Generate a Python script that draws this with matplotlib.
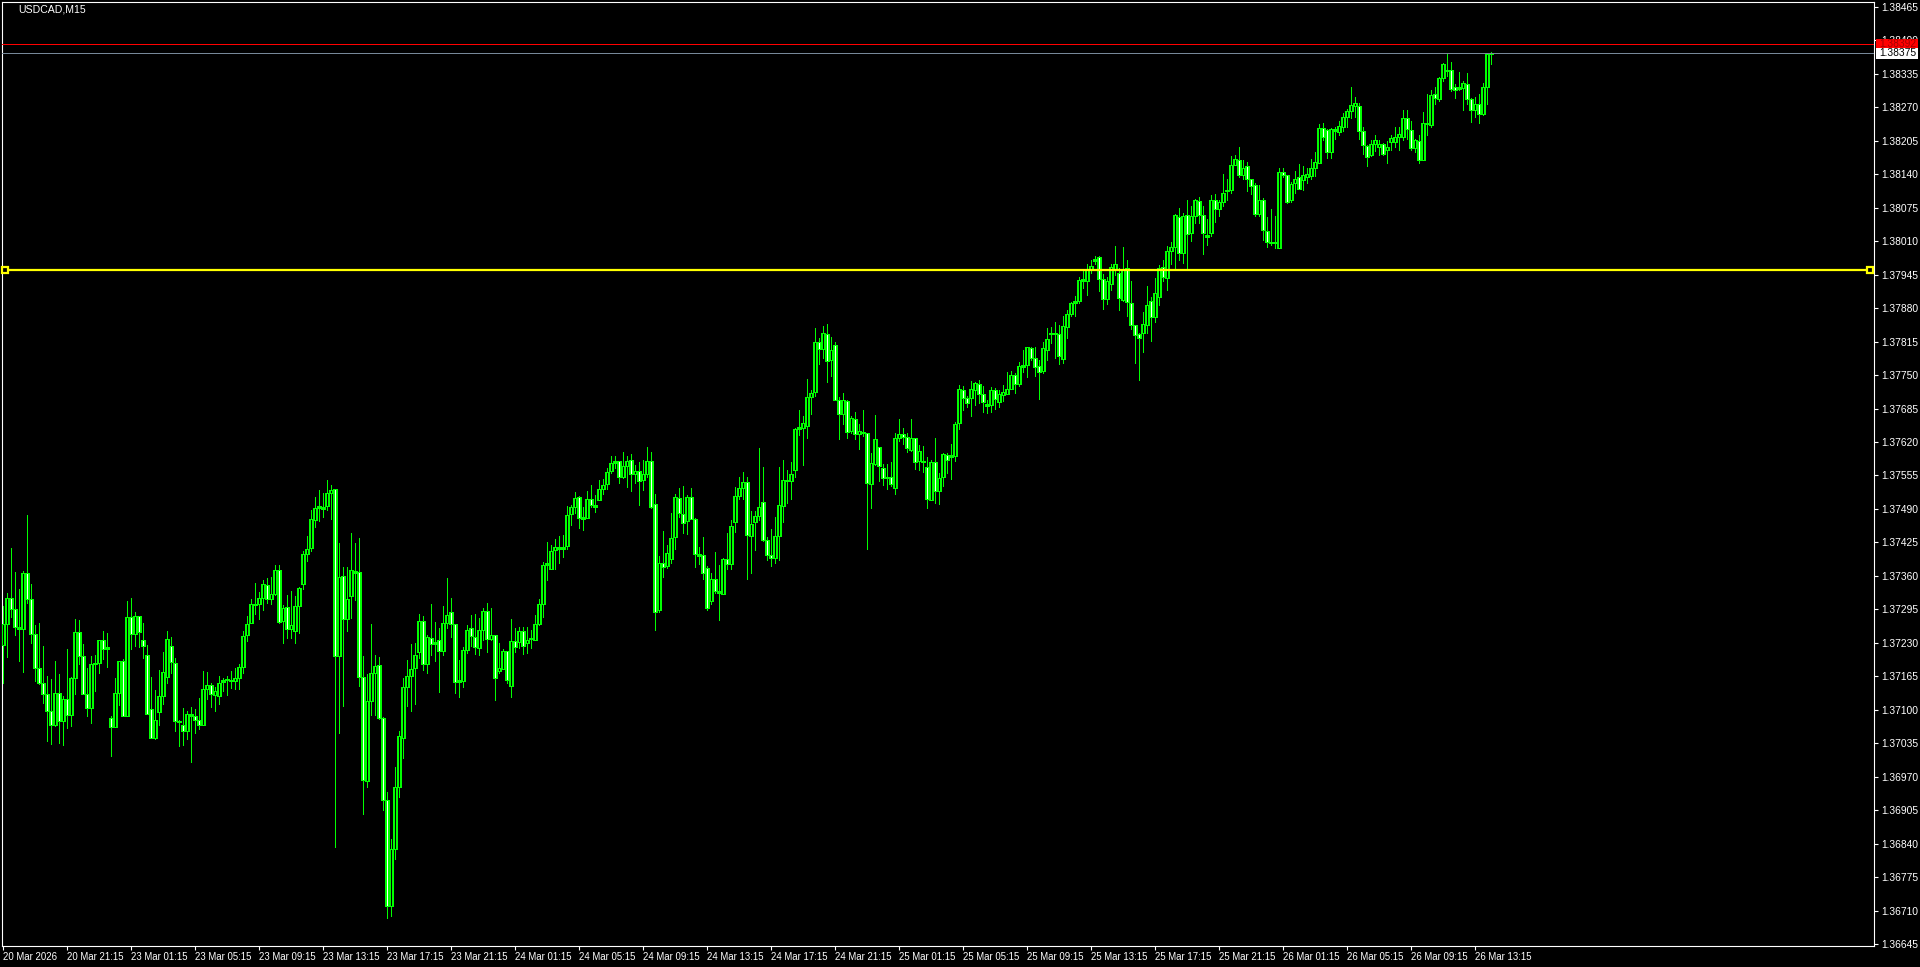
import numpy as np
import matplotlib
matplotlib.use('Agg')
import matplotlib.pyplot as plt
from matplotlib.patches import Rectangle
from matplotlib.transforms import blended_transform_factory

plt.rcParams['font.family'] = ['Liberation Sans Narrow', 'Liberation Sans', 'DejaVu Sans']

SYMBOL = 'USDCAD,M15'

# M15 bars, prices in points (1e-5), 20 Mar 17:15 .. 26 Mar 14:15
opens = [
    137226, 137266, 137317, 137296, 137261, 137257, 137365, 137316, 137247, 137181, 137153, 137131, 137098, 137070, 137132, 137078,
    137121, 137090, 137162, 137251, 137204, 137131, 137103, 137189, 137191, 137235, 137218, 137084, 137066, 137132, 137195, 137089,
    137280, 137247, 137282, 137235, 137206, 137101, 137045, 137096, 137127, 137164, 137224, 137191, 137078, 137070, 137059, 137092,
    137088, 137080, 137070, 137140, 137148, 137129, 137127, 137154, 137158, 137157, 137156, 137162, 137183, 137245, 137268, 137305,
    137305, 137317, 137342, 137315, 137325, 137371, 137272, 137299, 137257, 137253, 137301, 137344, 137402, 137414, 137468, 137492,
    137494, 137496, 137521, 137529, 137204, 137360, 137276, 137321, 137366, 137367, 137164, 136962, 137117, 137171, 137187, 137084,
    136925, 136720, 136830, 136950, 137046, 137144, 137165, 137182, 137212, 137272, 137190, 137240, 137227, 137235, 137214, 137268,
    137290, 137266, 137155, 137157, 137216, 137258, 137241, 137220, 137256, 137291, 137237, 137245, 137175, 137179, 137214, 137146,
    137233, 137231, 137253, 137229, 137237, 137235, 137266, 137305, 137381, 137373, 137410, 137416, 137412, 137418, 137480, 137493,
    137513, 137470, 137472, 137509, 137497, 137507, 137528, 137538, 137563, 137579, 137583, 137553, 137573, 137585, 137557, 137563,
    137546, 137557, 137583, 137499, 137293, 137385, 137379, 137392, 137435, 137511, 137480, 137466, 137513, 137470, 137402, 137400,
    137375, 137311, 137355, 137330, 137324, 137392, 137383, 137464, 137515, 137530, 137542, 137437, 137464, 137476, 137503, 137429,
    137400, 137395, 137437, 137495, 137546, 137544, 137565, 137645, 137647, 137651, 137707, 137717, 137814, 137800, 137829, 137779,
    137808, 137701, 137674, 137699, 137641, 137664, 137635, 137639, 137637, 137538, 137577, 137610, 137569, 137550, 137553, 137530,
    137627, 137635, 137629, 137604, 137627, 137583, 137583, 137571, 137507, 137581, 137524, 137552, 137594, 137590, 137592, 137656,
    137720, 137705, 137705, 137720, 137732, 137713, 137693, 137691, 137720, 137697, 137711, 137714, 137722, 137751, 137732, 137765,
    137769, 137802, 137783, 137767, 137757, 137798, 137829, 137831, 137829, 137781, 137843, 137868, 137889, 137893, 137936, 137932,
    137953, 137971, 137979, 137936, 137897, 137926, 137953, 137949, 137895, 137957, 137889, 137848, 137829, 137831, 137848, 137893,
    137863, 137901, 137959, 137938, 137990, 137998, 138056, 137986, 138060, 138025, 138058, 138087, 138060, 138021, 138025, 138089,
    138072, 138085, 138107, 138109, 138157, 138167, 138138, 138155, 138130, 138118, 138062, 138089, 138029, 138008, 138006, 137996,
    138144, 138138, 138089, 138122, 138134, 138128, 138134, 138136, 138151, 138161, 138229, 138225, 138182, 138227, 138221, 138231,
    138250, 138262, 138272, 138272, 138223, 138194, 138177, 138198, 138192, 138198, 138186, 138202, 138202, 138212, 138212, 138248,
    138225, 138190, 138204, 138167, 138239, 138235, 138295, 138285, 138326, 138343, 138342, 138309, 138305, 138307, 138314, 138285,
    138264, 138277, 138256, 138309, 138373,
]
highs = [
    137302, 137327, 137414, 137368, 137335, 137370, 137479, 137345, 137265, 137269, 137224, 137166, 137160, 137195, 137170, 137127,
    137219, 137164, 137277, 137275, 137228, 137182, 137205, 137207, 137236, 137254, 137250, 137088, 137162, 137195, 137199, 137312,
    137318, 137290, 137282, 137269, 137226, 137164, 137139, 137178, 137213, 137253, 137242, 137200, 137081, 137103, 137098, 137105,
    137101, 137123, 137175, 137173, 137152, 137144, 137166, 137161, 137165, 137175, 137182, 137189, 137253, 137282, 137315, 137346,
    137329, 137352, 137356, 137358, 137381, 137381, 137303, 137323, 137330, 137322, 137338, 137408, 137437, 137488, 137513, 137527,
    137521, 137546, 137536, 137529, 137424, 137377, 137377, 137443, 137424, 137433, 137204, 137169, 137266, 137206, 137202, 137086,
    136940, 136850, 136990, 137060, 137161, 137196, 137227, 137230, 137286, 137282, 137245, 137306, 137270, 137258, 137301, 137356,
    137317, 137267, 137196, 137223, 137264, 137284, 137286, 137278, 137297, 137307, 137297, 137245, 137229, 137218, 137214, 137276,
    137258, 137260, 137260, 137260, 137255, 137284, 137315, 137388, 137425, 137420, 137431, 137437, 137439, 137495, 137497, 137522,
    137515, 137493, 137524, 137536, 137517, 137546, 137548, 137569, 137592, 137592, 137584, 137600, 137592, 137596, 137575, 137581,
    137586, 137610, 137600, 137519, 137398, 137447, 137420, 137482, 137519, 137530, 137534, 137517, 137530, 137472, 137416, 137435,
    137379, 137365, 137406, 137381, 137394, 137443, 137468, 137532, 137552, 137561, 137552, 137487, 137486, 137608, 137571, 137435,
    137452, 137474, 137571, 137586, 137565, 137581, 137647, 137683, 137670, 137742, 137720, 137841, 137821, 137845, 137849, 137823,
    137814, 137707, 137715, 137701, 137670, 137678, 137654, 137683, 137637, 137598, 137672, 137610, 137577, 137577, 137581, 137637,
    137664, 137647, 137637, 137664, 137627, 137614, 137612, 137590, 137586, 137627, 137559, 137598, 137598, 137617, 137658, 137730,
    137728, 137709, 137738, 137736, 137740, 137728, 137701, 137726, 137724, 137720, 137730, 137755, 137757, 137753, 137775, 137798,
    137804, 137804, 137804, 137779, 137814, 137841, 137843, 137852, 137847, 137864, 137876, 137891, 137903, 137940, 137955, 137965,
    137973, 137982, 137981, 137946, 137940, 137965, 138000, 137957, 137998, 137973, 137933, 137848, 137832, 137872, 137923, 137901,
    137938, 137963, 137973, 138000, 138008, 138063, 138074, 138064, 138089, 138079, 138092, 138096, 138079, 138052, 138099, 138101,
    138089, 138140, 138130, 138175, 138177, 138192, 138167, 138163, 138130, 138122, 138118, 138093, 138056, 138072, 138058, 138151,
    138151, 138138, 138124, 138147, 138159, 138155, 138151, 138169, 138182, 138237, 138239, 138227, 138229, 138231, 138244, 138258,
    138266, 138310, 138289, 138279, 138231, 138196, 138206, 138215, 138206, 138200, 138204, 138215, 138231, 138231, 138264, 138264,
    138243, 138208, 138215, 138260, 138295, 138303, 138310, 138328, 138355, 138376, 138357, 138314, 138338, 138320, 138336, 138287,
    138289, 138295, 138316, 138375, 138378,
]
lows = [
    137152, 137202, 137281, 137246, 137194, 137173, 137308, 137230, 137157, 137151, 137114, 137039, 137033, 137068, 137035, 137031,
    137064, 137068, 137131, 137189, 137130, 137089, 137074, 137136, 137171, 137198, 137184, 137010, 137066, 137110, 137088, 137089,
    137219, 137224, 137223, 137200, 137092, 137045, 137043, 137070, 137112, 137153, 137171, 137059, 137029, 137031, 137043, 136999,
    137055, 137063, 137070, 137122, 137105, 137098, 137111, 137136, 137128, 137142, 137140, 137140, 137171, 137233, 137268, 137287,
    137276, 137293, 137307, 137305, 137323, 137268, 137230, 137239, 137239, 137230, 137249, 137334, 137389, 137408, 137455, 137466,
    137475, 137488, 137470, 136833, 137055, 137107, 137253, 137278, 137313, 137146, 136898, 136950, 137091, 137091, 137083, 136905,
    136696, 136700, 136810, 136930, 137007, 137108, 137097, 137112, 137201, 137177, 137172, 137206, 137194, 137134, 137207, 137259,
    137242, 137132, 137126, 137145, 137210, 137225, 137208, 137206, 137236, 137212, 137236, 137120, 137171, 137179, 137153, 137126,
    137213, 137220, 137208, 137210, 137220, 137235, 137264, 137281, 137353, 137373, 137373, 137385, 137396, 137412, 137458, 137482,
    137454, 137449, 137472, 137493, 137485, 137507, 137520, 137528, 137559, 137569, 137540, 137551, 137532, 137524, 137540, 137497,
    137526, 137553, 137491, 137256, 137290, 137357, 137375, 137385, 137412, 137474, 137444, 137441, 137470, 137377, 137383, 137355,
    137293, 137305, 137326, 137274, 137324, 137373, 137373, 137445, 137509, 137509, 137355, 137365, 137411, 137468, 137427, 137390,
    137380, 137385, 137391, 137464, 137501, 137510, 137552, 137633, 137575, 137627, 137674, 137709, 137771, 137783, 137736, 137748,
    137701, 137625, 137654, 137627, 137637, 137625, 137606, 137631, 137412, 137491, 137575, 137544, 137536, 137528, 137534, 137519,
    137621, 137617, 137600, 137602, 137567, 137565, 137561, 137491, 137507, 137501, 137499, 137534, 137559, 137548, 137583, 137645,
    137682, 137687, 137670, 137691, 137695, 137678, 137676, 137678, 137685, 137687, 137699, 137714, 137722, 137715, 137728, 137755,
    137746, 137779, 137748, 137703, 137753, 137779, 137812, 137783, 137771, 137773, 137821, 137864, 137864, 137889, 137918, 137905,
    137949, 137965, 137914, 137878, 137887, 137916, 137944, 137876, 137893, 137865, 137839, 137774, 137740, 137794, 137831, 137817,
    137852, 137885, 137933, 137916, 137965, 137955, 137973, 137968, 137955, 138011, 138046, 138046, 137984, 138002, 138019, 138048,
    138058, 138078, 138089, 138103, 138157, 138134, 138130, 138107, 138101, 138058, 138058, 138012, 137998, 138002, 137996, 137996,
    138134, 138083, 138085, 138103, 138111, 138109, 138122, 138130, 138136, 138161, 138206, 138171, 138171, 138208, 138215, 138223,
    138231, 138248, 138250, 138208, 138180, 138155, 138175, 138184, 138178, 138177, 138161, 138186, 138192, 138186, 138206, 138208,
    138186, 138182, 138161, 138167, 138215, 138231, 138277, 138281, 138320, 138330, 138301, 138287, 138303, 138264, 138277, 138241,
    138250, 138239, 138254, 138277, 138353,
]
closes = [
    137266, 137317, 137296, 137261, 137257, 137365, 137316, 137247, 137181, 137153, 137131, 137098, 137070, 137132, 137078, 137121,
    137090, 137162, 137251, 137204, 137131, 137103, 137189, 137191, 137235, 137218, 137222, 137066, 137132, 137195, 137089, 137280,
    137247, 137282, 137251, 137224, 137092, 137045, 137080, 137127, 137173, 137237, 137193, 137078, 137076, 137059, 137092, 137088,
    137080, 137070, 137140, 137148, 137131, 137136, 137152, 137158, 137160, 137156, 137162, 137183, 137243, 137266, 137305, 137303,
    137317, 137344, 137315, 137325, 137371, 137270, 137298, 137257, 137264, 137301, 137336, 137402, 137412, 137470, 137492, 137495,
    137490, 137521, 137527, 137204, 137358, 137276, 137315, 137371, 137369, 137164, 136964, 137117, 137171, 137185, 137084, 136925,
    136720, 136830, 136950, 137049, 137144, 137165, 137179, 137206, 137272, 137190, 137241, 137227, 137231, 137214, 137268, 137284,
    137266, 137155, 137159, 137216, 137256, 137243, 137222, 137256, 137291, 137237, 137245, 137161, 137181, 137214, 137158, 137233,
    137222, 137253, 137225, 137235, 137239, 137266, 137305, 137381, 137385, 137408, 137416, 137412, 137416, 137478, 137493, 137511,
    137472, 137474, 137509, 137497, 137493, 137528, 137536, 137561, 137579, 137583, 137553, 137573, 137583, 137557, 137563, 137544,
    137557, 137583, 137493, 137290, 137385, 137377, 137404, 137433, 137513, 137482, 137462, 137513, 137470, 137402, 137398, 137365,
    137297, 137355, 137330, 137326, 137392, 137383, 137456, 137515, 137530, 137542, 137439, 137460, 137476, 137493, 137429, 137400,
    137395, 137437, 137497, 137546, 137544, 137557, 137645, 137649, 137656, 137707, 137715, 137814, 137800, 137831, 137777, 137798,
    137701, 137674, 137701, 137639, 137666, 137635, 137641, 137637, 137540, 137579, 137625, 137573, 137550, 137553, 137538, 137627,
    137635, 137629, 137608, 137627, 137581, 137602, 137581, 137509, 137581, 137524, 137550, 137596, 137585, 137594, 137654, 137722,
    137705, 137695, 137722, 137734, 137713, 137697, 137689, 137720, 137703, 137713, 137718, 137722, 137751, 137732, 137767, 137769,
    137804, 137783, 137765, 137755, 137802, 137819, 137831, 137829, 137786, 137845, 137868, 137889, 137893, 137934, 137932, 137955,
    137961, 137975, 137936, 137897, 137932, 137959, 137965, 137899, 137955, 137891, 137848, 137828, 137821, 137850, 137885, 137862,
    137909, 137957, 137940, 137990, 137998, 138060, 137986, 138058, 138023, 138058, 138089, 138060, 138025, 138017, 138089, 138072,
    138085, 138103, 138109, 138157, 138169, 138138, 138151, 138130, 138116, 138062, 138089, 138031, 138008, 138006, 138008, 138145,
    138138, 138085, 138120, 138130, 138112, 138138, 138140, 138151, 138163, 138229, 138213, 138182, 138227, 138223, 138233, 138250,
    138262, 138274, 138279, 138223, 138196, 138173, 138198, 138206, 138198, 138180, 138192, 138210, 138212, 138217, 138248, 138227,
    138190, 138206, 138167, 138239, 138237, 138293, 138287, 138326, 138353, 138340, 138305, 138303, 138309, 138316, 138285, 138264,
    138277, 138256, 138309, 138373, 138375,
]

date_labels = [
    '20 Mar 2026', '20 Mar 21:15', '23 Mar 01:15', '23 Mar 05:15', '23 Mar 09:15', '23 Mar 13:15',
    '23 Mar 17:15', '23 Mar 21:15', '24 Mar 01:15', '24 Mar 05:15', '24 Mar 09:15', '24 Mar 13:15',
    '24 Mar 17:15', '24 Mar 21:15', '25 Mar 01:15', '25 Mar 05:15', '25 Mar 09:15', '25 Mar 13:15',
    '25 Mar 17:15', '25 Mar 21:15', '26 Mar 01:15', '26 Mar 05:15', '26 Mar 09:15', '26 Mar 13:15',
]
BARS_PER_LABEL = 16

ask = 1.38392
bid = 1.38375
level = 1.37954

y_lo, y_hi = 1.366417, 1.384741
W, H = 1920, 967

o = np.array(opens) / 1e5
h = np.array(highs) / 1e5
l = np.array(lows) / 1e5
c = np.array(closes) / 1e5
n = len(o)
x = np.arange(n)

fig = plt.figure(figsize=(W / 100, H / 100), dpi=100, facecolor='black')
ax = fig.add_axes([2 / W, 21 / H, 1872 / W, 944 / H])
ax.set_facecolor('black')
ax.set_xlim(-0.325, 467.675)
ax.set_ylim(y_lo, y_hi)
px = (y_hi - y_lo) / 944  # one pixel in price

lime = '#00FF00'
lw1 = 0.72

# wicks
ax.vlines(x, np.minimum(l, np.minimum(o, c)), np.maximum(h, np.maximum(o, c)),
          colors=lime, lw=lw1, antialiased=False, zorder=3)
# bodies: lime frame, black inside for up bars, white inside for down bars
top = np.maximum(o, c)
bot = np.minimum(o, c)
top_d = np.maximum(top, bot + px)
ax.vlines(x, bot, top_d, colors=lime, lw=2.25, antialiased=False, zorder=4)
inner = (top - bot) > 2.2 * px
fill = np.where(c < o, 'white', 'black')
ax.vlines(x[inner], bot[inner] + px, top[inner] - px, colors=list(fill[inner]),
          lw=lw1, antialiased=False, zorder=5)

# price lines
ax.axhline(ask, color='#FF0000', lw=lw1, zorder=6)
ax.axhline(bid, color='#778899', lw=lw1, zorder=6)
ax.axhline(level, color='#FFFF00', lw=1.6, zorder=6)
x0, x1 = ax.get_xlim()
ax.plot([x0 + 0.8, x1 - 0.9], [level, level], 's', ms=4.2, mfc='black', mec='#FFFF00',
        mew=1.6, zorder=7, clip_on=False)

for s in ax.spines.values():
    s.set_color('white')
    s.set_linewidth(0.8)

ax.set_xticks(x[::BARS_PER_LABEL])
ax.set_xticklabels(date_labels, ha='left')
yt = np.round(np.arange(1.36645, 1.38470, 0.00065), 5)
ax.set_yticks(yt)
ax.set_yticklabels([f'{v:.5f}' for v in yt])
ax.yaxis.tick_right()
ax.tick_params(axis='x', direction='out', length=3, width=0.8, colors='white', labelsize=6.9, pad=1.5)
ax.tick_params(axis='y', direction='out', length=3, width=0.8, colors='white', labelsize=7.4, pad=2.5)

# price boxes on the right scale
bt = blended_transform_factory(fig.transFigure, ax.transData)
ax.add_patch(Rectangle((1876 / W, ask - 5.5 * px), 42 / W, 11 * px, facecolor='#FF0000',
                       edgecolor='none', transform=bt, clip_on=False, zorder=8))
ax.text(1879 / W, ask, f'{ask:.5f}', color='#A00000', fontsize=7.4, va='center', ha='left',
        transform=bt, clip_on=False, zorder=9)
ax.add_patch(Rectangle((1876 / W, bid - 5.5 * px), 42 / W, 11 * px, facecolor='white',
                       edgecolor='none', transform=bt, clip_on=False, zorder=10))
ax.text(1879 / W, bid, f'{bid:.5f}', color='black', fontsize=7.4, va='center', ha='left',
        transform=bt, clip_on=False, zorder=11)

fig.text(18 / W, 1 - 10 / H, SYMBOL, color='white', fontsize=7.6, va='center', ha='left')

fig.savefig('out.png', dpi=100, facecolor='black')
